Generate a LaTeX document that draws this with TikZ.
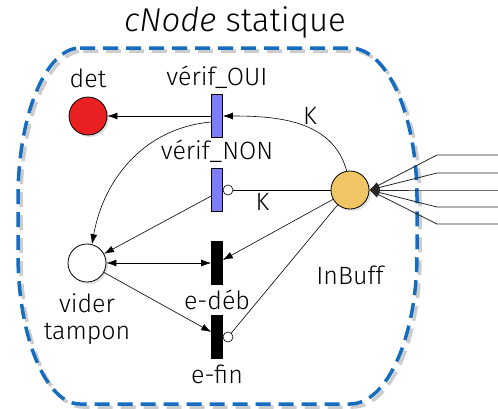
\documentclass[tikz,border=0pt]{standalone}
\usepackage{fontspec}
\setmainfont{Fira Sans Light}
\usepackage{tikz}
\usetikzlibrary{arrows.meta, shadows}

\definecolor{cnblue}{RGB}{22,108,190}
\definecolor{detred}{RGB}{232,32,36}
\definecolor{bufyellow}{RGB}{240,198,100}
\definecolor{trblue}{RGB}{125,125,250}

\begin{document}
\begin{tikzpicture}[x=1pt, y=-1pt,
  >={Latex[length=10pt, width=7pt]},
  every node/.style={font=\fontsize{25}{27}\selectfont},
  place/.style={draw, circle, minimum size=38pt, inner sep=0pt, thick,
    drop shadow={opacity=0.25, shadow xshift=2pt, shadow yshift=-2pt}},
  trans/.style={draw, rectangle, minimum width=11pt, minimum height=43pt, inner sep=0pt},
  vtr/.style={trans, fill=trblue},
  btr/.style={trans, fill=black},
  inhib/.style={draw, circle, fill=white, minimum size=10pt, inner sep=0pt},
  lbl/.style={label distance=0pt, text height=18pt, text depth=5pt},
  lblb/.style={label distance=3pt, text height=18pt, text depth=5pt},
  every path/.style={line width=0.6pt}
]
\useasboundingbox (0,0) rectangle (498,408);

% boite cNode
\foreach \dx/\col in {3/black!20, 0/cnblue} {
  \draw[\col, line width=3.5pt, dash pattern=on 15pt off 8pt, xshift=\dx pt, yshift=-\dx pt]
    (80,48) -- (350,48) .. controls (387,48) and (417,115) .. (417,198)
    -- (417,254) .. controls (417,337) and (387,404) .. (350,404)
    -- (80,404) .. controls (46,404) and (18,337) .. (18,254)
    -- (18,198) .. controls (18,115) and (46,48) .. cycle;
}
\node[font=\fontsize{33}{36}\selectfont] (titre) at (235,22) {\textit{cNode} statique};

% places
\node[place, fill=detred, label={[lbl]above:det}] (det) at (88,116) {};
\node[place, fill=white, label={[label distance=8pt, align=center]below:vider\\tampon}] (vider) at (87,263) {};
\node[place, fill=bufyellow, label={[label distance=53pt]below:InBuff}] (buf) at (350,190) {};

% transitions
\node[vtr, label={[lbl]above:vérif\_OUI}] (voui) at (217,116) {};
\node[vtr, label={[lbl]above:vérif\_NON}] (vnon) at (217,190) {};
\node[btr, label={[lblb]below:e-déb}] (edeb) at (217,263) {};
\node[btr, label={[lblb]below:e-fin}] (efin) at (217,337) {};
\node[inhib] (inh1) at (228,190) {};
\node[inhib] (inh2) at (228,337) {};

% arcs
\draw[->] (voui) -- (det);
\draw[->] (buf.100) to[out=105, in=0] node[pos=0.42, above] {K} (voui.east);
\draw (inh1) -- (buf) node[pos=0.3, below] {K};
\draw[->] ([yshift=-6pt]voui.west) to[out=185, in=80] (vider.75);
\draw[->] ([yshift=-6pt]vnon.west) -- (vider);
\draw[->] (buf) -- ([yshift=3pt]edeb.east);
\draw[<->] (vider) -- (edeb);
\draw[->] (vider) -- ([yshift=5pt]efin.west);
\draw (inh2) -- (buf);

% entrees
\foreach \i/\y in {1/155, 2/173, 3/190, 4/207, 5/224} {
  \coordinate (in\i) at (498,\y);
  \coordinate (k\i) at (437,\y);
  \draw[->, black!85, line width=0.8pt] (in\i) -- (k\i) -- (buf.east);
}
\end{tikzpicture}
\end{document}
